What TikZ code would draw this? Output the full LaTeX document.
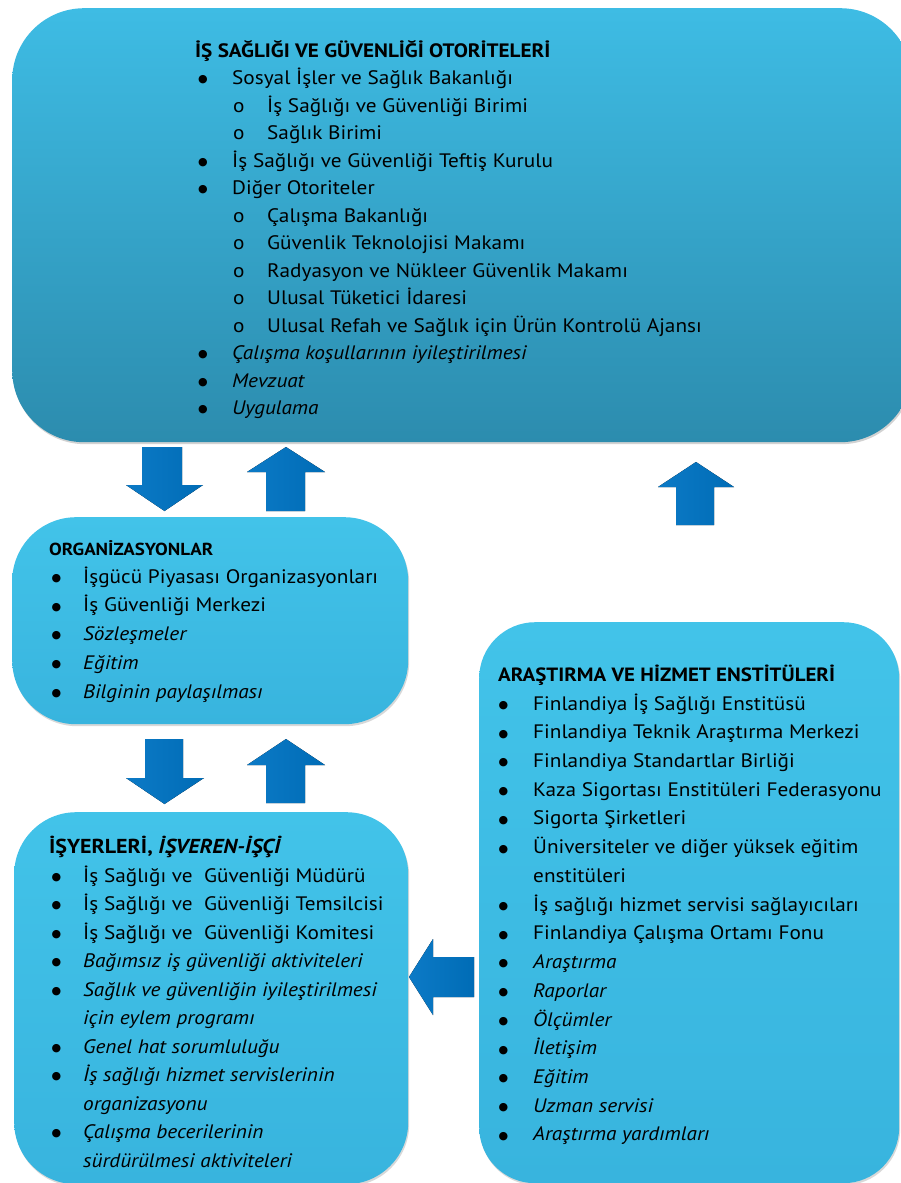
\documentclass[tikz,border=0pt]{standalone}
\usepackage{fontspec}
\setmainfont{PT Sans}[FakeStretch=1.09]
\newfontfamily\symf{DejaVu Sans}
\usetikzlibrary{shadows}
\definecolor{topA}{RGB}{62,188,228}
\definecolor{topB}{RGB}{44,140,174}
\definecolor{boxA}{RGB}{66,195,233}
\definecolor{boxB}{RGB}{56,180,222}
\definecolor{arrL}{RGB}{12,122,198}
\definecolor{arrR}{RGB}{0,108,182}
\newlength\bpre \newlength\bwid \newlength\spre \newlength\swid
\newcommand\bul{\raisebox{1.6pt}{\symf\fontsize{11}{11}\selectfont ●}}
\newcommand\bi[1]{\hspace*{\bpre}\makebox[\bwid][l]{\bul}#1}
\newcommand\si[1]{\hspace*{\spre}\makebox[\swid][l]{o}#1}
\newcommand\cont[1]{\hspace*{\bpre}\hspace*{\bwid}#1}
\newcommand\itemfont{\fontsize{19.5}{28.5}\selectfont}
\tikzset{
  bigbox/.style={rectangle, rounded corners=72pt, top color=topA, bottom color=topB, anchor=north west, inner sep=0, drop shadow={shadow xshift=1pt, shadow yshift=-2pt, opacity=0.35}},
  smallbox/.style={rectangle, top color=boxA, bottom color=boxB, anchor=north west, inner sep=0, drop shadow={shadow xshift=1pt, shadow yshift=-2pt, opacity=0.3}},
  txt/.style={anchor=base west, inner sep=0, text=black},
  blockarrow/.style={left color=arrL, right color=arrR, draw=none}
}
\begin{document}
\begin{tikzpicture}[x=1pt,y=-1pt]
\useasboundingbox (0,0) rectangle (901,1183);
\fill[white] (0,0) rectangle (901,1183);
\clip (0,0) rectangle (901,1183);
% boxes
\node[bigbox, minimum width=900pt, minimum height=434pt] (auth) at (12,8) {};
\node[smallbox, rounded corners=64pt, minimum width=396pt, minimum height=207pt] (org) at (12,517) {};
\node[smallbox, rounded corners=62pt, minimum width=394pt, minimum height=372pt] (work) at (14,812) {};
\node[smallbox, rounded corners=56pt, minimum width=420pt, minimum height=561pt] (inst) at (479,622) {};
% arrows
\fill[blockarrow] (142,447) -- (182,447) -- (182,485) -- (203,485) -- (164.5,511) -- (126,485) -- (142,485) -- cycle;
\fill[blockarrow] (286,447) -- (325,472) -- (305,472) -- (305,511) -- (266,511) -- (266,472) -- (247,472) -- cycle;
\fill[blockarrow] (696,462) -- (734,487) -- (714,487) -- (714,525) -- (676,525) -- (676,487) -- (658,487) -- cycle;
\fill[blockarrow] (145,739) -- (183,739) -- (183,778) -- (204,778) -- (164.5,804) -- (126,778) -- (145,778) -- cycle;
\fill[blockarrow] (286,739) -- (325,765) -- (305,765) -- (305,803) -- (266,803) -- (266,765) -- (247,765) -- cycle;
\fill[blockarrow] (409,977) -- (433,939) -- (433,957) -- (474,957) -- (474,997) -- (433,997) -- (433,1015) -- cycle;
% top box text
\node[txt, font=\bfseries\fontsize{19.4}{19}\selectfont] (authT) at (195,57) {İŞ SAĞLIĞI VE GÜVENLİĞİ OTORİTELERİ};
\node[txt] (authL) at (195,84.5) {\parbox[t]{680pt}{\itemfont\setlength\baselineskip{27.5pt}\lineskiplimit=-20pt
\setlength\bpre{3pt}\setlength\bwid{34pt}\setlength\spre{38pt}\setlength\swid{34pt}%
\bi{Sosyal İşler ve Sağlık Bakanlığı}\\
\si{İş Sağlığı ve Güvenliği Birimi}\\
\si{Sağlık Birimi}\\
\bi{İş Sağlığı ve Güvenliği Teftiş Kurulu}\\
\bi{Diğer Otoriteler}\\
\si{Çalışma Bakanlığı}\\
\si{Güvenlik Teknolojisi Makamı}\\
\si{Radyasyon ve Nükleer Güvenlik Makamı}\\
\si{Ulusal Tüketici İdaresi}\\
\si{Ulusal Refah ve Sağlık için Ürün Kontrolü Ajansı}\\
\bi{\itshape Çalışma koşullarının iyileştirilmesi}\\
\bi{\itshape Mevzuat}\\
\bi{\itshape Uygulama}}};
% organisations
\node[txt, font=\bfseries\fontsize{17.4}{17}\selectfont] (orgT) at (49,555) {ORGANİZASYONLAR};
\node[txt] (orgL) at (49,583) {\parbox[t]{350pt}{\itemfont\setlength\baselineskip{28.75pt}\lineskiplimit=-20pt
\setlength\bpre{2.5pt}\setlength\bwid{31.5pt}%
\bi{İşgücü Piyasası Organizasyonları}\\
\bi{İş Güvenliği Merkezi}\\
\bi{\itshape Sözleşmeler}\\
\bi{\itshape Eğitim}\\
\bi{\itshape Bilginin paylaşılması}}};
% workplaces
\node[txt, font=\bfseries\fontsize{20.2}{20}\selectfont] (workT) at (49,853) {İŞYERLERİ, \textit{İŞVEREN-İŞÇİ}};
\node[txt] (workL) at (49,882) {\parbox[t]{350pt}{\itemfont\setlength\baselineskip{28.5pt}\lineskiplimit=-20pt
\setlength\bpre{2.5pt}\setlength\bwid{31.5pt}%
\bi{İş Sağlığı ve\ \ Güvenliği Müdürü}\\
\bi{İş Sağlığı ve\ \ Güvenliği Temsilcisi}\\
\bi{İş Sağlığı ve\ \ Güvenliği Komitesi}\\
\bi{\itshape Bağımsız iş güvenliği aktiviteleri}\\
\bi{\itshape Sağlık ve güvenliğin iyileştirilmesi}\\
\cont{\itshape için eylem programı}\\
\bi{\itshape Genel hat sorumluluğu}\\
\bi{\itshape İş sağlığı hizmet servislerinin}\\
\cont{\itshape organizasyonu}\\
\bi{\itshape Çalışma becerilerinin}\\
\cont{\itshape sürdürülmesi aktiviteleri}}};
% institutes
\node[txt, font=\bfseries\fontsize{19.2}{19}\selectfont] (instT) at (498,681) {ARAŞTIRMA VE HİZMET ENSTİTÜLERİ};
\node[txt] (instL) at (498,710) {\parbox[t]{400pt}{\itemfont\setlength\baselineskip{28.73pt}\lineskiplimit=-20pt
\setlength\bpre{0.5pt}\setlength\bwid{34.5pt}%
\bi{Finlandiya İş Sağlığı Enstitüsü}\\
\bi{Finlandiya Teknik Araştırma Merkezi}\\
\bi{Finlandiya Standartlar Birliği}\\
\bi{Kaza Sigortası Enstitüleri Federasyonu}\\
\bi{Sigorta Şirketleri}\\
\bi{Üniversiteler ve diğer yüksek eğitim}\\
\cont{enstitüleri}\\
\bi{İş sağlığı hizmet servisi sağlayıcıları}\\
\bi{Finlandiya Çalışma Ortamı Fonu}\\
\bi{\itshape Araştırma}\\
\bi{\itshape Raporlar}\\
\bi{\itshape Ölçümler}\\
\bi{\itshape İletişim}\\
\bi{\itshape Eğitim}\\
\bi{\itshape Uzman servisi}\\
\bi{\itshape Araştırma yardımları}}};
\end{tikzpicture}
\end{document}
